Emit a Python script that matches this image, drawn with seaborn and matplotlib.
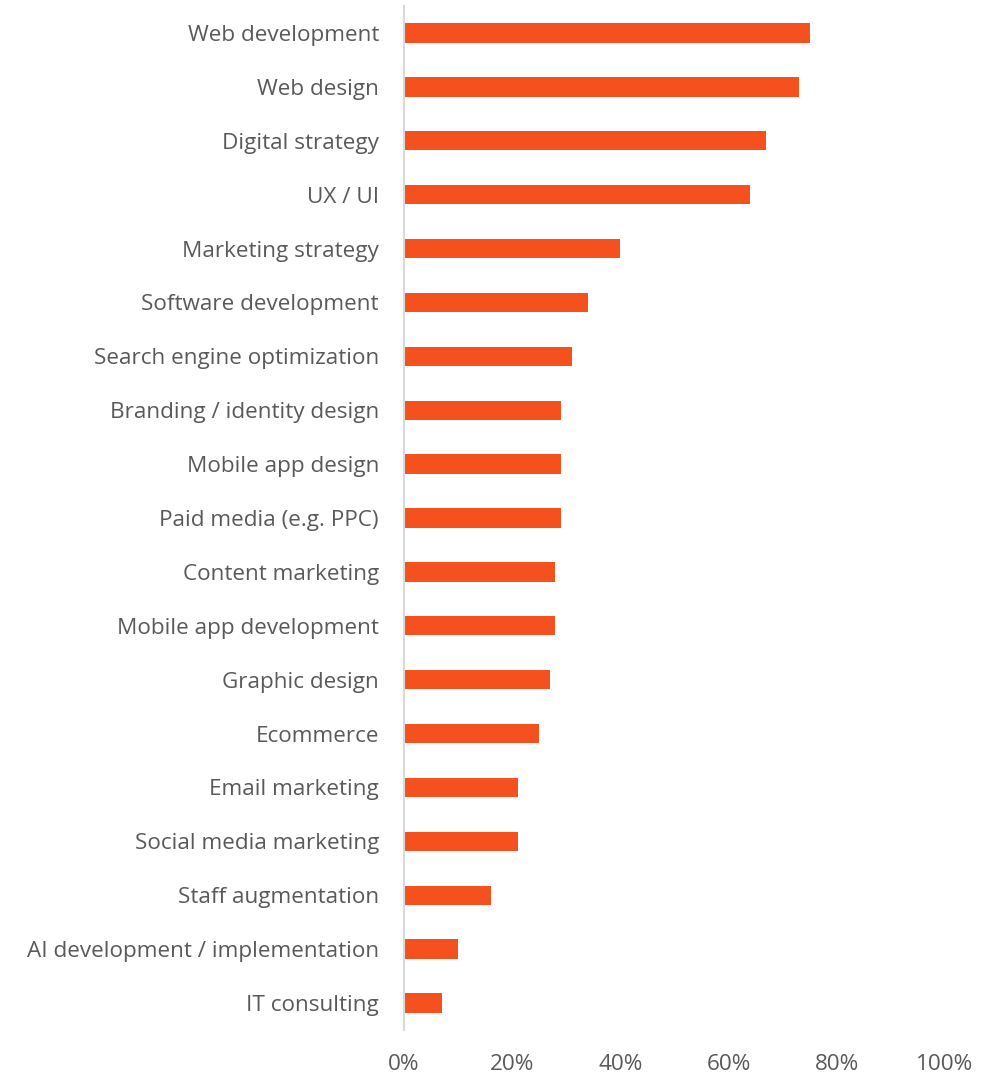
import matplotlib
matplotlib.use("Agg")
import matplotlib.pyplot as plt
import seaborn as sns
import pandas as pd
from matplotlib.ticker import FuncFormatter

services = [
    "Web development", "Web design", "Digital strategy", "UX / UI",
    "Marketing strategy", "Software development", "Search engine optimization",
    "Branding / identity design", "Mobile app design", "Paid media (e.g. PPC)",
    "Content marketing", "Mobile app development", "Graphic design",
    "Ecommerce", "Email marketing", "Social media marketing",
    "Staff augmentation", "AI development / implementation", "IT consulting",
]
share = [75, 73, 67, 64, 40, 34, 31, 29, 29, 29, 28, 28, 27, 25, 21, 21, 16, 10, 7]
x_ticks = [0, 20, 40, 60, 80, 100]

df = pd.DataFrame({"service": services, "share": share})

sns.set_theme(style="white")
plt.rcParams["font.family"] = ["Open Sans", "DejaVu Sans"]

text_color = "#595959"
bar_color = "#F4511E"

fig = plt.figure(figsize=(9.95, 10.77), dpi=100)
ax = fig.add_axes([404 / 995, 1 - 1030 / 1077, (945 - 404) / 995, (1030 - 6) / 1077])

sns.barplot(data=df, x="share", y="service", orient="h", color=bar_color,
            width=0.36, saturation=1, edgecolor="none", ax=ax)

ax.set_xlim(0, 100)
ax.set_ylim(len(services) - 0.5, -0.5)
ax.set_xticks(x_ticks)
ax.xaxis.set_major_formatter(FuncFormatter(lambda v, p: f"{v:.0f}%"))
ax.set_xlabel("")
ax.set_ylabel("")

for side in ["top", "right", "bottom"]:
    ax.spines[side].set_visible(False)
ax.spines["left"].set_color("#d9d9d9")
ax.spines["left"].set_linewidth(1.5)

ax.tick_params(axis="y", length=0, pad=18, labelsize=16.2, labelcolor=text_color)
ax.tick_params(axis="x", length=0, pad=17.5, labelsize=16.2, labelcolor=text_color)

fig.savefig("out.png", dpi=100, facecolor="white")
